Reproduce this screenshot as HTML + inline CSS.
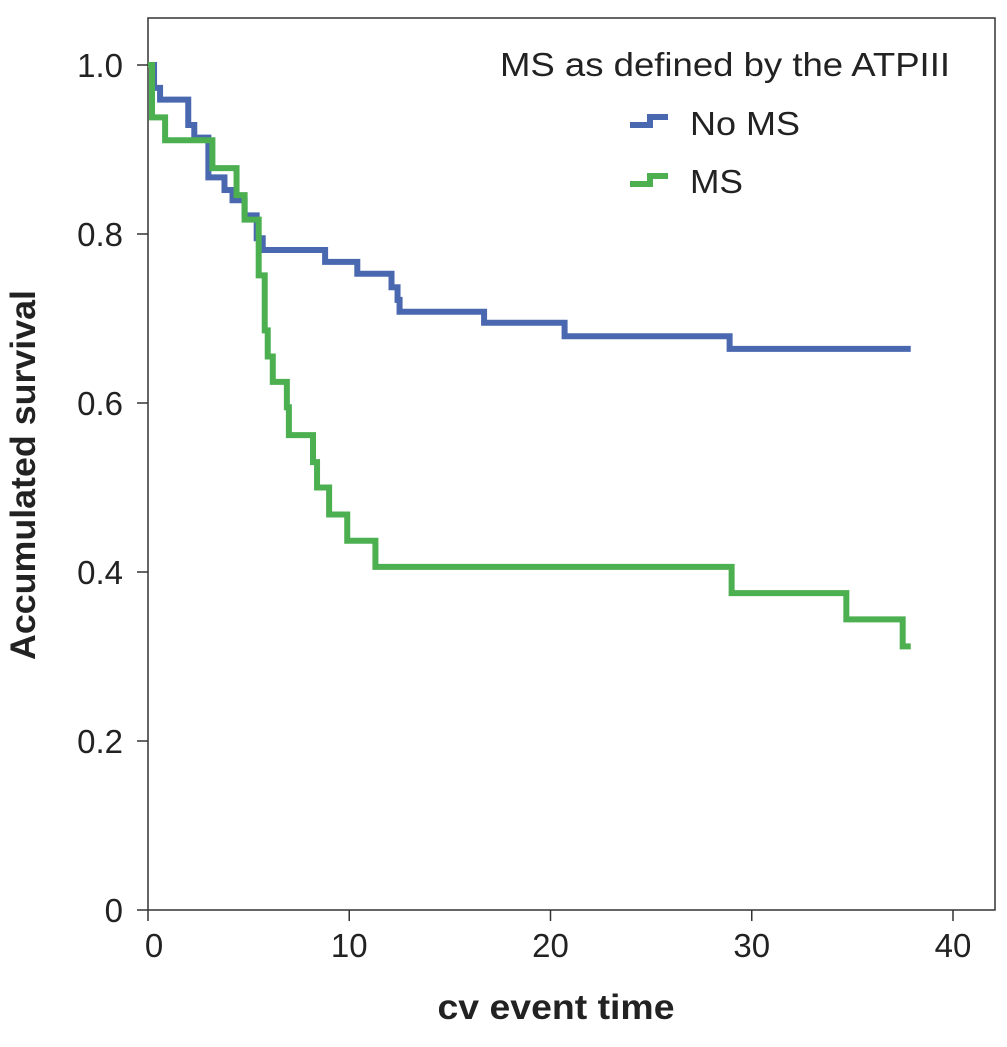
<!DOCTYPE html>
<html><head><meta charset="utf-8"><style>
html,body{margin:0;padding:0;background:#fff;}
svg{display:block;font-family:"Liberation Sans","DejaVu Sans",sans-serif;}
</style></head><body>
<svg id="chart" width="1007" height="1047">
<rect x="148" y="18" width="847" height="892" fill="none" stroke="#333" stroke-width="1.5"/>
<g id="axes"></g>
<g id="series"></g>
<text x="35" y="475" transform="rotate(-90 35 475)" text-anchor="middle" font-size="35" font-weight="bold" fill="#222" textLength="370" lengthAdjust="spacingAndGlyphs">Accumulated survival</text>
<text x="556" y="1019" text-anchor="middle" font-size="35" font-weight="bold" fill="#222" textLength="237" lengthAdjust="spacingAndGlyphs">cv event time</text>
<g>
<text x="500" y="76" font-size="33" fill="#222" textLength="450" lengthAdjust="spacingAndGlyphs">MS as defined by the ATPIII</text>
<g>
<path d="M630 125 H650 V117 H668" fill="none" stroke="#4a68b0" stroke-width="6"/>
<text x="690" y="135" font-size="33" fill="#222" textLength="110" lengthAdjust="spacingAndGlyphs">No MS</text></g>
<g>
<path d="M630 184 H650 V176 H668" fill="none" stroke="#4caf50" stroke-width="6"/>
<text x="690" y="193" font-size="33" fill="#222" textLength="53" lengthAdjust="spacingAndGlyphs">MS</text></g>
</g>
</svg>
<script>
const xTicks=[0,10,20,30,40];
const yTicks=[0,0.2,0.4,0.6,0.8,1.0];
const yTickLabels=["0","0.2","0.4","0.6","0.8","1.0"];
const noMsTimes=[0,0.3,0.6,2.0,2.3,3.0,3.8,4.2,4.8,5.4,5.7,8.8,10.4,12.1,12.4,12.5,16.7,20.7,28.9,37.9];
const noMsSurv=[1.0,0.973,0.959,0.929,0.914,0.867,0.852,0.840,0.822,0.795,0.781,0.767,0.753,0.737,0.722,0.708,0.695,0.679,0.664,0.664];
const msTimes=[0,0.2,0.85,3.2,4.4,4.8,5.5,5.8,5.95,6.2,6.9,7.0,8.2,8.4,9.0,9.9,11.3,29.0,34.7,37.5,37.9];
const msSurv=[1.0,0.938,0.911,0.878,0.846,0.817,0.751,0.686,0.655,0.625,0.595,0.562,0.530,0.500,0.468,0.437,0.406,0.375,0.344,0.312,0.312];
const X=v=>148+v*20.125, Y=v=>910-v*845;
const ns="http://www.w3.org/2000/svg";
const axes=document.getElementById('axes'), ser=document.getElementById('series');
xTicks.forEach(t=>{
 const l=document.createElementNS(ns,'line');
 l.setAttribute('x1',X(t));l.setAttribute('x2',X(t));l.setAttribute('y1',910);l.setAttribute('y2',921);l.setAttribute('stroke','#333');l.setAttribute('stroke-width','1.5');
 
 
 axes.appendChild(l);
 const tx=document.createElementNS(ns,'text');
 tx.setAttribute('x',X(t)+(t===0?6:0));tx.setAttribute('y',957);tx.setAttribute('text-anchor','middle');tx.setAttribute('font-size','33');tx.setAttribute('fill','#222');
 tx.textContent=t;
 
 
 axes.appendChild(tx);
});
yTicks.forEach((t,i)=>{
 const l=document.createElementNS(ns,'line');
 l.setAttribute('x1',137);l.setAttribute('x2',148);l.setAttribute('y1',Y(t));l.setAttribute('y2',Y(t));l.setAttribute('stroke','#333');l.setAttribute('stroke-width','1.5');
 
 
 axes.appendChild(l);
 const tx=document.createElementNS(ns,'text');
 tx.setAttribute('x',123);tx.setAttribute('y',Y(t)+12);tx.setAttribute('text-anchor','end');tx.setAttribute('font-size','33');tx.setAttribute('fill','#222');
 tx.textContent=yTickLabels[i];
 
 
 axes.appendChild(tx);
});
function step(times,surv,color,name){
 let d='M'+X(times[0])+' '+Y(surv[0]);
 for(let i=1;i<times.length;i++){d+=' H'+X(times[i])+' V'+Y(surv[i]);}
 const p=document.createElementNS(ns,'path');
 p.setAttribute('d',d);p.setAttribute('fill','none');p.setAttribute('stroke',color);p.setAttribute('stroke-width','6');
 
 
 ser.appendChild(p);
}
step(noMsTimes,noMsSurv,'#4a68b0','no-ms-curve');
step(msTimes,msSurv,'#4caf50','ms-curve');
</script>
</body></html>
